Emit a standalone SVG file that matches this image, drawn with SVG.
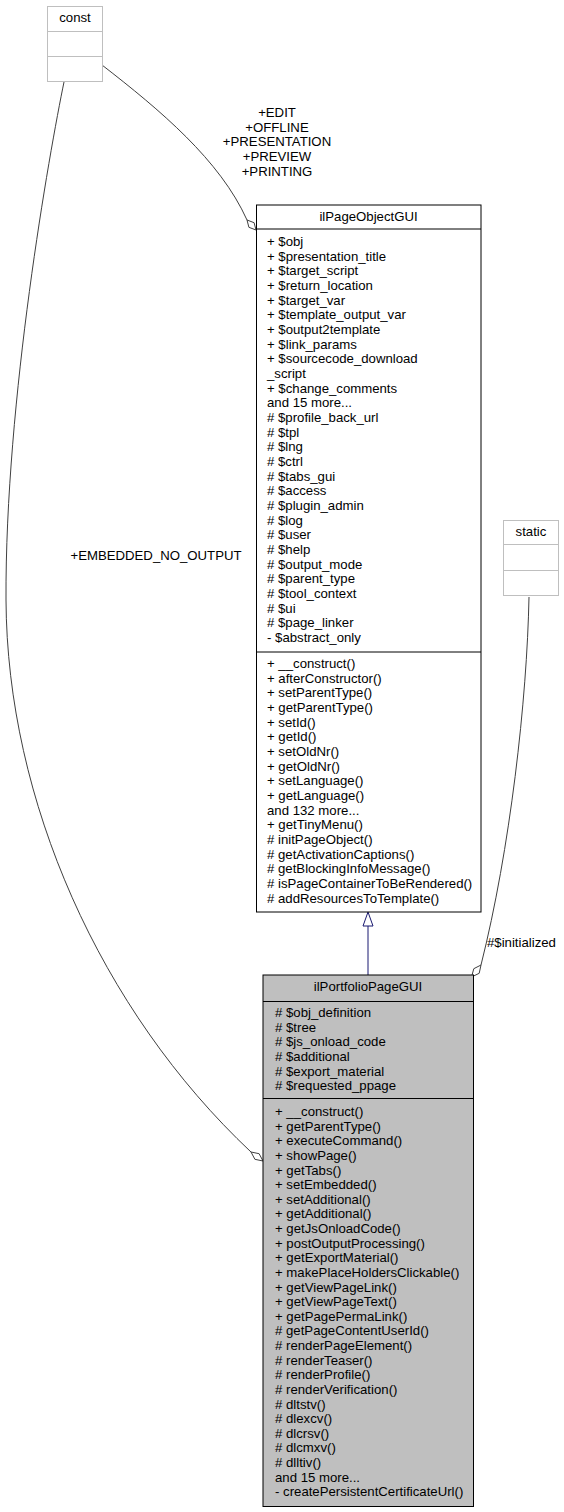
<svg xmlns="http://www.w3.org/2000/svg" width="564" height="1512" viewBox="0 0 564 1512">
<style>
text{font-family:"Liberation Sans",Arial,sans-serif;font-size:13.2px;fill:#000}
.mid{text-anchor:middle}
.gbox{fill:#fff;stroke:#bfbfbf;stroke-width:1}
.box{fill:#fff;stroke:#000;stroke-width:1}
.cur{fill:#bfbfbf;stroke:#000;stroke-width:1}
.sep{stroke:#000;stroke-width:1}
.gsep{stroke:#bfbfbf;stroke-width:1}
.edge{fill:none;stroke:#404040;stroke-width:1}
.dia{fill:#fff;stroke:#404040;stroke-width:1}
.inh{fill:none;stroke:#191970;stroke-width:1}
.tri{fill:#fff;stroke:#191970;stroke-width:1}
</style>
<rect width="564" height="1512" fill="#fff"/>
<g id="connectors">
  <path class="edge" d="M102,65 C160,110 220,160 247,220"/>
  <polygon class="dia" points="247,220 248.9,227.3 256,230 254.1,222.7"/>
  <path class="edge" d="M64,82 C50,150 5,400 6,600 C7,800 100,1010 251,1152"/>
  <polygon class="dia" points="251,1152 254.9,1159.3 263,1161 259.1,1153.7"/>
  <path class="edge" d="M529,597 C527,700 510,850 481,965"/>
  <polygon class="dia" points="481,965 479.2,973.3 471.5,977 473.8,968.7"/>
  <path class="inh" d="M368,975 L368,926"/>
  <polygon class="tri" points="368,912 363,926 373,926"/>
  <text class="mid" x="277"><tspan x="277" y="117">+EDIT</tspan><tspan x="277" y="131.7">+OFFLINE</tspan><tspan x="277" y="146.3">+PRESENTATION</tspan><tspan x="277" y="161">+PREVIEW</tspan><tspan x="277" y="175.7">+PRINTING</tspan></text>
  <text class="mid" x="156" y="560">+EMBEDDED_NO_OUTPUT</text>
  <text x="487" y="947">#$initialized</text>
</g>
<g id="const">
  <rect class="gbox" x="47.5" y="6.5" width="55" height="75"/>
  <line class="gsep" x1="47.5" y1="31.5" x2="102.5" y2="31.5"/>
  <line class="gsep" x1="47.5" y1="56.5" x2="102.5" y2="56.5"/>
  <text class="mid" x="75" y="22">const</text>
</g>
<g id="static">
  <rect class="gbox" x="503.5" y="520.5" width="55" height="75"/>
  <line class="gsep" x1="503.5" y1="544.5" x2="558.5" y2="544.5"/>
  <line class="gsep" x1="503.5" y1="570.5" x2="558.5" y2="570.5"/>
  <text class="mid" x="531" y="536">static</text>
</g>
<g id="ilPageObjectGUI">
  <rect class="box" x="256.5" y="205" width="224.5" height="707"/>
  <line class="sep" x1="256.5" y1="229" x2="481" y2="229"/>
  <line class="sep" x1="256.5" y1="652" x2="481" y2="652"/>
  <text class="mid" x="368.5" y="220.5">ilPageObjectGUI</text>
  <text x="267"><tspan x="267" y="246">+ $obj</tspan><tspan x="267" dy="14.67">+ $presentation_title</tspan><tspan x="267" dy="14.67">+ $target_script</tspan><tspan x="267" dy="14.67">+ $return_location</tspan><tspan x="267" dy="14.67">+ $target_var</tspan><tspan x="267" dy="14.67">+ $template_output_var</tspan><tspan x="267" dy="14.67">+ $output2template</tspan><tspan x="267" dy="14.67">+ $link_params</tspan><tspan x="267" dy="14.67">+ $sourcecode_download</tspan><tspan x="267" dy="14.67">_script</tspan><tspan x="267" dy="14.67">+ $change_comments</tspan><tspan x="267" dy="14.67">and 15 more...</tspan><tspan x="267" dy="14.67"># $profile_back_url</tspan><tspan x="267" dy="14.67"># $tpl</tspan><tspan x="267" dy="14.67"># $lng</tspan><tspan x="267" dy="14.67"># $ctrl</tspan><tspan x="267" dy="14.67"># $tabs_gui</tspan><tspan x="267" dy="14.67"># $access</tspan><tspan x="267" dy="14.67"># $plugin_admin</tspan><tspan x="267" dy="14.67"># $log</tspan><tspan x="267" dy="14.67"># $user</tspan><tspan x="267" dy="14.67"># $help</tspan><tspan x="267" dy="14.67"># $output_mode</tspan><tspan x="267" dy="14.67"># $parent_type</tspan><tspan x="267" dy="14.67"># $tool_context</tspan><tspan x="267" dy="14.67"># $ui</tspan><tspan x="267" dy="14.67"># $page_linker</tspan><tspan x="267" dy="14.67">- $abstract_only</tspan></text>
  <text x="267"><tspan x="267" y="668">+ __construct()</tspan><tspan x="267" dy="14.67">+ afterConstructor()</tspan><tspan x="267" dy="14.67">+ setParentType()</tspan><tspan x="267" dy="14.67">+ getParentType()</tspan><tspan x="267" dy="14.67">+ setId()</tspan><tspan x="267" dy="14.67">+ getId()</tspan><tspan x="267" dy="14.67">+ setOldNr()</tspan><tspan x="267" dy="14.67">+ getOldNr()</tspan><tspan x="267" dy="14.67">+ setLanguage()</tspan><tspan x="267" dy="14.67">+ getLanguage()</tspan><tspan x="267" dy="14.67">and 132 more...</tspan><tspan x="267" dy="14.67">+ getTinyMenu()</tspan><tspan x="267" dy="14.67"># initPageObject()</tspan><tspan x="267" dy="14.67"># getActivationCaptions()</tspan><tspan x="267" dy="14.67"># getBlockingInfoMessage()</tspan><tspan x="267" dy="14.67"># isPageContainerToBeRendered()</tspan><tspan x="267" dy="14.67"># addResourcesToTemplate()</tspan></text>
</g>
<g id="ilPortfolioPageGUI">
  <rect class="cur" x="263" y="975" width="210.5" height="531.5"/>
  <line class="sep" x1="263" y1="1001.5" x2="473.5" y2="1001.5"/>
  <line class="sep" x1="263" y1="1098.5" x2="473.5" y2="1098.5"/>
  <text class="mid" x="368" y="991">ilPortfolioPageGUI</text>
  <text x="275"><tspan x="275" y="1017"># $obj_definition</tspan><tspan x="275" dy="14.63"># $tree</tspan><tspan x="275" dy="14.63"># $js_onload_code</tspan><tspan x="275" dy="14.63"># $additional</tspan><tspan x="275" dy="14.63"># $export_material</tspan><tspan x="275" dy="14.63"># $requested_ppage</tspan></text>
  <text x="275"><tspan x="275" y="1116">+ __construct()</tspan><tspan x="275" dy="14.63">+ getParentType()</tspan><tspan x="275" dy="14.63">+ executeCommand()</tspan><tspan x="275" dy="14.63">+ showPage()</tspan><tspan x="275" dy="14.63">+ getTabs()</tspan><tspan x="275" dy="14.63">+ setEmbedded()</tspan><tspan x="275" dy="14.63">+ setAdditional()</tspan><tspan x="275" dy="14.63">+ getAdditional()</tspan><tspan x="275" dy="14.63">+ getJsOnloadCode()</tspan><tspan x="275" dy="14.63">+ postOutputProcessing()</tspan><tspan x="275" dy="14.63">+ getExportMaterial()</tspan><tspan x="275" dy="14.63">+ makePlaceHoldersClickable()</tspan><tspan x="275" dy="14.63">+ getViewPageLink()</tspan><tspan x="275" dy="14.63">+ getViewPageText()</tspan><tspan x="275" dy="14.63">+ getPagePermaLink()</tspan><tspan x="275" dy="14.63"># getPageContentUserId()</tspan><tspan x="275" dy="14.63"># renderPageElement()</tspan><tspan x="275" dy="14.63"># renderTeaser()</tspan><tspan x="275" dy="14.63"># renderProfile()</tspan><tspan x="275" dy="14.63"># renderVerification()</tspan><tspan x="275" dy="14.63"># dltstv()</tspan><tspan x="275" dy="14.63"># dlexcv()</tspan><tspan x="275" dy="14.63"># dlcrsv()</tspan><tspan x="275" dy="14.63"># dlcmxv()</tspan><tspan x="275" dy="14.63"># dlltiv()</tspan><tspan x="275" dy="14.63">and 15 more...</tspan><tspan x="275" dy="14.63">- createPersistentCertificateUrl()</tspan></text>
</g>
</svg>
